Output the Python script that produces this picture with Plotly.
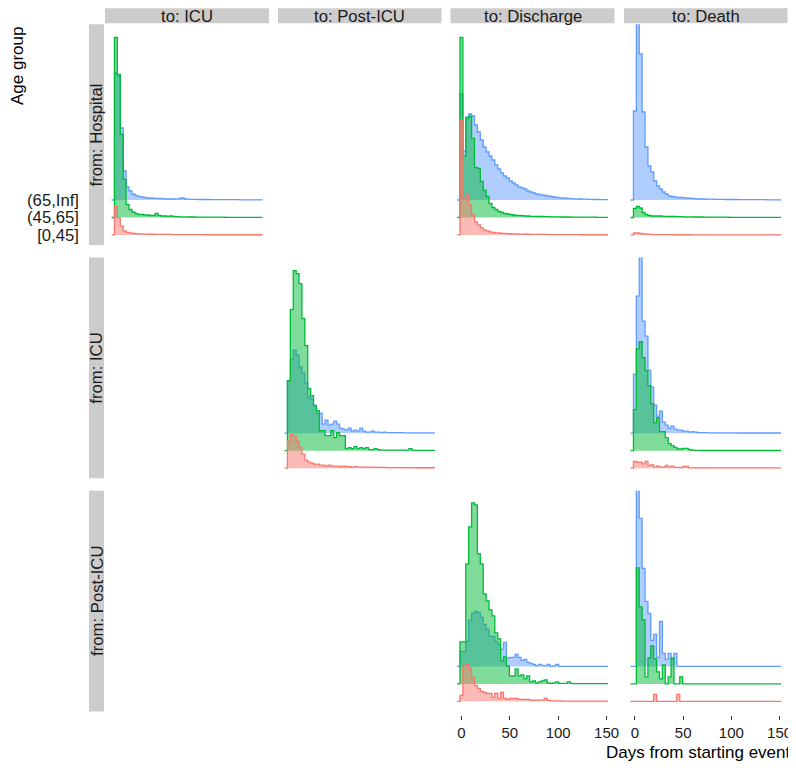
import plotly.graph_objects as go

# ---------------- data ----------------
BIN_CENTERS = [-3, 0, 3, 6, 9, 12, 15, 18, 21, 24, 27, 30, 33,
               36, 39, 42, 45, 48, 51, 54, 57, 60, 63, 66, 69, 72,
               75, 78, 81, 84, 87, 90, 93, 96, 99, 102, 105, 108, 111,
               114, 117, 120, 123, 126, 129, 132, 135, 138, 141, 144, 147, 150]
AGE_GROUPS = ["[0,45]", "(45,65]", "(65,Inf]"]
FROM_STATES = ["Hospital", "ICU", "Post-ICU"]
TO_STATES = ["ICU", "Post-ICU", "Discharge", "Death"]
X_TICKS = [0, 50, 100, 150]

# scaled bin heights per panel and age group
hosp_icu_65_inf = [0, 127, 124, 72, 29, 13, 9, 6, 4.5, 3.5, 3, 2.5, 2,
                   2, 1.8, 1.6, 1.5, 1.3, 1.2, 1, 1, 1, 0.8, 1.5, 2, 1,
                   0.8, 0.7, 0.6, 0.6, 0.5, 0.5, 0.5, 0.5, 0.4, 0.4, 0.4, 0.4, 0.3,
                   0.3, 0.3, 0.3, 0.3, 0.3, 0.2, 0.2, 0.2, 0.2, 0.2, 0.2, 0.2, 0.2]
hosp_icu_45_65 = [0, 180, 143, 83, 38, 13, 8, 5.5, 4, 3, 3, 2.5, 2.5,
                  2, 2, 4, 2, 1.5, 1.5, 1.2, 1.5, 1, 0.8, 0.7, 0.6, 0.6,
                  0.5, 0.5, 0.5, 0.4, 0.4, 0.4, 0.4, 0.3, 0.3, 0.3, 0.3, 0.3, 0.3,
                  0.2, 0.2, 0.2, 0.2, 0.2, 0.2, 0.2, 0.2, 0.2, 0.2, 0.2, 0.2, 0.2]
hosp_icu_0_45 = [0, 29, 17, 9, 4, 2.5, 2, 1.5, 1.2, 1, 1, 0.8, 0.8,
                 0.7, 0.7, 0.6, 0.6, 0.5, 0.5, 0.5, 0.5, 0.4, 0.4, 0.4, 0.4, 0.3,
                 0.3, 0.3, 0.3, 0.3, 0.3, 0.3, 0.2, 0.2, 0.2, 0.2, 0.2, 0.2, 0.2,
                 0.2, 0.2, 0.2, 0.2, 0.2, 0.2, 0.2, 0.2, 0.2, 0.2, 0.2, 0.2, 0.2]

hosp_dis_65_inf = [0, 106, 49, 83, 86, 84, 75, 68, 60, 53, 48, 44, 40,
                   35, 31, 27, 24, 22, 19, 17, 15, 13, 12, 11, 9, 8,
                   7, 6, 5.5, 5, 4.5, 4, 3.5, 3, 2.5, 2.2, 2, 1.8, 1.6,
                   1.4, 1.2, 1.1, 1, 0.9, 0.8, 0.7, 0.6, 0.5, 0.5, 0.4, 0.3, 0.3]
hosp_dis_45_65 = [0, 180, 61, 99, 101, 79, 50, 49, 36, 27, 21, 14, 10,
                  8, 6, 5, 4, 3.5, 3, 2.5, 2, 2, 1.8, 1.5, 1.5, 1.2,
                  1.2, 1, 1, 1, 0.8, 0.8, 0.7, 0.7, 0.6, 0.6, 0.5, 0.5, 0.5,
                  0.4, 0.4, 0.4, 0.4, 0.3, 0.3, 0.3, 0.3, 0.3, 0.2, 0.2, 0.2, 0.2]
hosp_dis_0_45 = [0, 115, 37, 40, 30, 20, 13, 10, 7, 5, 4, 3, 2.5,
                 2, 2, 1.5, 1.5, 1.2, 1.2, 1, 1, 0.8, 0.8, 0.7, 0.7, 0.6,
                 0.6, 0.5, 0.5, 0.5, 0.5, 0.4, 0.4, 0.4, 0.4, 0.3, 0.3, 0.3, 0.3,
                 0.3, 0.3, 0.3, 0.2, 0.2, 0.2, 0.2, 0.2, 0.2, 0.2, 0.2, 0.2, 0.2]

hosp_death_65_inf = [0, 89, 200, 146, 88, 53, 34, 28, 19, 14, 11, 8, 6,
                     4, 3.5, 3, 2.5, 2.5, 2.2, 2, 1.8, 1.5, 1.3, 1.2, 1, 1,
                     0.9, 0.8, 0.8, 0.7, 0.7, 0.6, 0.6, 0.5, 0.5, 0.5, 0.5, 0.4, 0.4,
                     0.4, 0.4, 0.3, 0.3, 0.3, 0.3, 0.3, 0.3, 0.2, 0.2, 0.2, 0.2, 0.2]
hosp_death_45_65 = [0, 9, 11, 9.5, 5, 3, 2, 1.5, 1.5, 1.5, 1.5, 1.2, 1.2,
                    1, 1, 1, 0.8, 0.8, 0.7, 0.7, 0.6, 0.6, 0.5, 0.5, 0.5, 0.4,
                    0.4, 0.4, 0.4, 0.3, 0.3, 0.3, 0.3, 0.3, 0.2, 0.2, 0.2, 0.2, 0.2,
                    0.2, 0.2, 0.2, 0.2, 0.2, 0.1, 0.1, 0.1, 0.1, 0.1, 0.1, 0.1, 0.1]
hosp_death_0_45 = [0, 2, 2, 1.5, 1, 0.7, 0.5, 0.5, 0.4, 0.4, 0.3, 0.3, 0.3,
                   0.3, 0.2, 0.2, 0.2, 0.2, 0.2, 0.2, 0.2, 0.1, 0.1, 0.1, 0.1, 0.1,
                   0.1, 0.1, 0.1, 0.1, 0.1, 0.1, 0.1, 0.1, 0.1, 0.1, 0.1, 0.1, 0.1,
                   0.1, 0.1, 0.1, 0.1, 0.1, 0.1, 0.1, 0.1, 0.1, 0.1, 0.1, 0.1, 0.1]

icu_post_65_inf = [0, 52, 74, 83, 78, 66, 60, 50, 36, 34, 28, 20, 20,
                   9, 13, 8, 9, 12, 9, 5, 4, 3, 5, 2, 3, 2,
                   5, 2, 1, 1, 2, 1, 1, 0.5, 1, 0.5, 0.5, 0.5, 0.5,
                   0.5, 0.5, 0.3, 0.3, 0.3, 0.3, 0.3, 0.3, 0.3, 0.3, 0.3, 0.3, 0.3]
icu_post_45_65 = [0, 70, 141, 180, 177, 167, 132, 105, 62, 55, 45, 40, 20,
                  20, 15, 15, 20, 13, 18, 15, 15, 2, 3, 2, 4, 2,
                  3, 2, 3, 1, 1, 2, 1, 0.5, 0.5, 0.5, 0.5, 0.5, 0.5,
                  0.5, 0.5, 0.5, 0.5, 2, 0.5, 0.3, 0.3, 0.3, 0.3, 0.3, 0.3, 0.3]
icu_post_0_45 = [0, 27, 34, 32, 27, 21, 14, 8, 6, 5, 4, 4, 3,
                 3, 2, 3, 2, 2, 2, 1.5, 2, 1.5, 1.5, 1, 1.5, 1,
                 1, 1, 1, 1, 1, 0.8, 0.8, 0.8, 0.8, 0.6, 0.6, 0.6, 0.6,
                 0.5, 0.5, 0.5, 0.5, 0.5, 0.5, 0.4, 0.4, 0.4, 0.4, 0.4, 0.4, 0.4]

icu_death_65_inf = [0, 59, 137, 182, 112, 97, 63, 46, 28, 17, 22, 11, 8,
                    5, 7, 4, 3, 3, 2, 2, 1, 1.5, 1, 0.5, 0.5, 0.5,
                    0.5, 0.3, 0.3, 0.3, 0.3, 0.3, 0.3, 0.3, 0.3, 0.3, 0.3, 0.2, 0.2,
                    0.2, 0.2, 0.2, 0.2, 0.2, 0.2, 0.2, 0.2, 0.2, 0.2, 0.2, 0.2, 0.2]
icu_death_45_65 = [0, 41, 102, 109, 93, 80, 65, 47, 28, 33, 19, 19, 13,
                   7, 5, 3.3, 1.7, 1.7, 2.3, 2.3, 1, 0.5, 0.3, 0.3, 0.3, 0.3,
                   0.2, 0.2, 0.2, 0.2, 0.2, 0.2, 0.2, 0.2, 0.2, 0.2, 0.2, 0.2, 0.2,
                   0.2, 0.2, 0.2, 0.2, 0.2, 0.2, 0.2, 0.2, 0.2, 0.2, 0.2, 0.2, 0.2]
icu_death_0_45 = [0, 6.7, 6, 6, 4.3, 6.7, 2.7, 3.3, 1, 2, 1, 1, 2.7,
                  1, 2, 0.7, 0.7, 0.5, 1.7, 1.7, 0.3, 0.3, 0.3, 0.3, 0.3, 0.3,
                  0.2, 0.2, 0.2, 0.2, 0.2, 0.2, 0.2, 0.2, 0.2, 0.2, 0.2, 0.2, 0.2,
                  0.2, 0.2, 0.2, 0.2, 0.2, 0.2, 0.2, 0.2, 0.2, 0.2, 0.2, 0.2, 0.2]

post_dis_65_inf = [0, 15, 15, 25, 46, 53, 55, 54, 49, 42, 37, 30, 30,
                   25, 22, 17, 24, 8, 9, 9, 12, 9, 6, 7, 4, 3,
                   2, 0.5, 2, 1, 0.5, 2, 0, 0.5, 2, 0, 0, 0, 0,
                   0, 0, 0, 0, 0, 0, 0, 0, 0, 0, 0, 0, 0]
post_dis_45_65 = [0, 42, 42, 120, 157, 181, 179, 130, 120, 90, 83, 74, 68,
                  51, 45, 23, 27, 18, 8, 8, 15, 8, 9, 5, 8, 2,
                  3, 1, 2, 3, 4, 1, 0.5, 1, 2, 0.5, 0.5, 0.5, 2,
                  0.5, 0.3, 0.3, 0.3, 0.3, 0.3, 0.3, 0.3, 0.3, 0.3, 0.3, 0.3, 0.3]
post_dis_0_45 = [0, 6, 36, 37, 33, 24, 16, 13, 10, 9, 8, 8, 4,
                 8, 3, 9, 3, 2, 3, 3, 3, 2, 2, 2, 2, 1.3,
                 1.3, 1.3, 1.3, 1.3, 3, 1, 0.5, 0.5, 0.5, 0.5, 0.3, 0.3, 0.3,
                 0.3, 0.3, 0.3, 0.3, 0.3, 0.3, 0.3, 0.3, 0.3, 0.3, 0.3, 0.3, 0.3]

post_death_65_inf = [0, 0, 180, 148, 98, 65, 53, 26, 32, 9, 45, 13, 7,
                     13, 7, 13, 0, 0, 0, 0, 0, 0, 0, 0, 0, 0,
                     0, 0, 0, 0, 0, 0, 0, 0, 0, 0, 0, 0, 0,
                     0, 0, 0, 0, 0, 0, 0, 0, 0, 0, 0, 0, 0]
post_death_45_65 = [0, 0, 116, 77, 64, 7, 26, 38, 25, 12, 5, 19, 0,
                    7, 26, 0, 0, 7, 0, 0, 0, 0, 0, 0, 0, 0,
                    0, 0, 0, 0, 0, 0, 0, 0, 0, 0, 0, 0, 0,
                    0, 0, 0, 0, 0, 0, 0, 0, 0, 0, 0, 0, 0]
post_death_0_45 = [0, 0, 0, 0, 0, 0, 0, 0, 7, 0, 0, 0, 0,
                   0, 0, 0, 7, 0, 0, 0, 0, 0, 0, 0, 0, 0,
                   0, 0, 0, 0, 0, 0, 0, 0, 0, 0, 0, 0, 0,
                   0, 0, 0, 0, 0, 0, 0, 0, 0, 0, 0, 0, 0]

PANELS = {
    ("Hospital", "ICU"): [hosp_icu_0_45, hosp_icu_45_65, hosp_icu_65_inf],
    ("Hospital", "Discharge"): [hosp_dis_0_45, hosp_dis_45_65, hosp_dis_65_inf],
    ("Hospital", "Death"): [hosp_death_0_45, hosp_death_45_65, hosp_death_65_inf],
    ("ICU", "Post-ICU"): [icu_post_0_45, icu_post_45_65, icu_post_65_inf],
    ("ICU", "Death"): [icu_death_0_45, icu_death_45_65, icu_death_65_inf],
    ("Post-ICU", "Discharge"): [post_dis_0_45, post_dis_45_65, post_dis_65_inf],
    ("Post-ICU", "Death"): [post_death_0_45, post_death_45_65, post_death_65_inf],
}

# ---------------- style / layout (page pixel coordinates) ----------------
PAGE_OFF = 8                      # default page body margin
FW, FH = 796 - PAGE_OFF, 770 - 2 * PAGE_OFF
COL_PX = [(105, 269), (278, 441.5), (450.5, 614.5), (624, 787.5)]
ROW_PX = [(24.3, 245.1), (257.5, 478.3), (490.7, 711.5)]
TOP_STRIP = (8.3, 23.3)
X_RANGE = [-11.3, 158.2]
Y_RANGE = [0.42, 13.05]
RIDGE_SCALE = 17.48
LINE_COLORS = ["#F8766D", "#00BA38", "#619CFF"]
FILL_COLORS = ["rgba(248,118,109,0.5)", "rgba(0,186,56,0.5)", "rgba(97,156,255,0.5)"]
STRIP = "#CCCCCC"
FONT = "Liberation Sans, Arial, Helvetica, sans-serif"
TXT = "#1a1a1a"


def px(p):
    return (p - PAGE_OFF) / FW


def py(p):
    return 1 - (p - PAGE_OFF) / FH


edges = [c - 1.5 for c in BIN_CENTERS] + [BIN_CENTERS[-1] + 1.5]

fig = go.Figure()
layout = dict(width=FW, height=FH, margin=dict(l=0, r=0, t=0, b=0, autoexpand=False),
              paper_bgcolor="white", plot_bgcolor="white", showlegend=False,
              font=dict(family=FONT, color="black"))
shapes, annotations = [], []

for r, frm in enumerate(FROM_STATES):
    for c, to in enumerate(TO_STATES):
        k = r * 4 + c + 1
        xa = "x" if k == 1 else f"x{k}"
        ya = "y" if k == 1 else f"y{k}"
        xkey = "xaxis" if k == 1 else f"xaxis{k}"
        ykey = "yaxis" if k == 1 else f"yaxis{k}"
        x0, x1 = COL_PX[c]
        top, bot = ROW_PX[r]
        bottom_row = r == len(FROM_STATES) - 1
        xdict = dict(domain=[px(x0), px(x1)], range=X_RANGE,
                     automargin=False,
                     showgrid=False, zeroline=False, showline=False,
                     tickvals=X_TICKS, ticktext=[str(t) for t in X_TICKS],
                     showticklabels=bottom_row,
                     ticks="outside" if bottom_row else "",
                     ticklen=4, tickwidth=1, tickcolor="#333333",
                     tickfont=dict(size=15, color=TXT, family=FONT))
        if bottom_row:
            xdict.update(anchor="free", position=py(714.5))
        else:
            xdict.update(anchor=ya)
        layout[xkey] = xdict
        ydict = dict(domain=[py(bot), py(top)], range=Y_RANGE,
                     automargin=False,
                     showgrid=False, zeroline=False, showline=False,
                     tickvals=[1, 2, 3], ticktext=AGE_GROUPS,
                     showticklabels=(c == 0), ticks="",
                     tickfont=dict(size=16.7, color=TXT, family=FONT))
        if c == 0:
            ydict.update(anchor="free", position=px(79))
        else:
            ydict.update(anchor=xa)
        layout[ykey] = ydict
        series = PANELS.get((frm, to))
        if series is None:
            continue
        for g, vals in reversed(list(enumerate(series))):
            base = g + 1
            ys = [base + v / RIDGE_SCALE for v in vals] + [base + vals[-1] / RIDGE_SCALE]
            fig.add_trace(go.Scatter(
                x=edges + [edges[-1], edges[0]], y=ys + [base, base],
                xaxis=xa, yaxis=ya, mode="lines", line_shape="hv",
                fill="toself", fillcolor=FILL_COLORS[g],
                line=dict(width=0, color="rgba(0,0,0,0)"), hoverinfo="skip"))
            fig.add_trace(go.Scatter(
                x=edges, y=ys, xaxis=xa, yaxis=ya, mode="lines", line_shape="hv",
                line=dict(width=1.3, color=LINE_COLORS[g]), hoverinfo="skip"))

# column strips
for c, to in enumerate(TO_STATES):
    x0, x1 = COL_PX[c]
    shapes.append(dict(type="rect", xref="paper", yref="paper", x0=px(x0), x1=px(x1),
                       y0=py(TOP_STRIP[1]), y1=py(TOP_STRIP[0]), fillcolor=STRIP,
                       line=dict(width=0), layer="below"))
    annotations.append(dict(text=f"to: {to}", xref="paper", yref="paper",
                            x=px((x0 + x1) / 2), y=py(sum(TOP_STRIP) / 2 + 0.3),
                            showarrow=False, xanchor="center", yanchor="middle",
                            font=dict(size=16.7, color=TXT, family=FONT)))
# row strips
for r, frm in enumerate(FROM_STATES):
    top, bot = ROW_PX[r]
    shapes.append(dict(type="rect", xref="paper", yref="paper", x0=px(89), x1=px(104),
                       y0=py(bot), y1=py(top), fillcolor=STRIP, line=dict(width=0),
                       layer="below"))
    annotations.append(dict(text=f"from: {frm}", xref="paper", yref="paper",
                            x=px(96.8), y=py((top + bot) / 2), showarrow=False,
                            textangle=-90, xanchor="center", yanchor="middle",
                            font=dict(size=16.7, color=TXT, family=FONT)))

annotations.append(dict(text="Age group", xref="paper", yref="paper", x=px(18), y=py(66),
                        showarrow=False, textangle=-90, xanchor="center", yanchor="middle",
                        font=dict(size=17, color="black", family=FONT)))
annotations.append(dict(text="Days from starting event", xref="paper", yref="paper",
                        x=px(793), y=py(752), showarrow=False,
                        xanchor="right", yanchor="middle",
                        font=dict(size=17, color="black", family=FONT)))

layout["shapes"] = shapes
layout["annotations"] = annotations
fig.update_layout(**layout)
fig.write_html("out.html")
